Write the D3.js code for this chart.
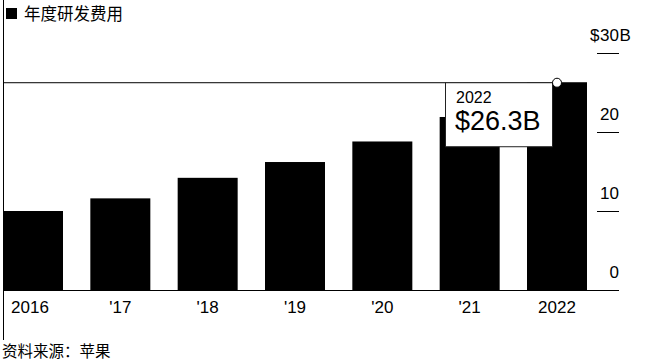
<!DOCTYPE html>
<html>
<head>
<meta charset="utf-8">
<script src="https://cdn.jsdelivr.net/npm/d3@7"></script>
<style>
  body { margin: 0; background: #fff; }
  svg { display: block; }
  text { font-family: "Liberation Sans", Arial, "Noto Sans CJK SC", sans-serif; fill: #000; }
  .cjk { font-family: "Noto Sans CJK SC", sans-serif; }
</style>
</head>
<body>
<div id="chart"></div>
<script>
// data
const years = ["2016", "2017", "2018", "2019", "2020", "2021", "2022"];
const yearLabels = ["2016", "'17", "'18", "'19", "'20", "'21", "2022"];
const spending = [10.0, 11.6, 14.2, 16.2, 18.8, 21.9, 26.3]; // $B
const yTicks = [0, 10, 20, 30];
const title = "年度研发费用";
const source = "资料来源：苹果";

const width = 646;
const height = 361;

const svg = d3
  .select("#chart")
  .append("svg")
  .attr("width", width)
  .attr("height", height);

const x = d3.scaleBand().domain(years).range([3, 587]).paddingInner(0.313).paddingOuter(0);
const y = d3.scaleLinear().domain([0, 30]).range([290, 53]);
const axisRight = 619;

// left rule
svg.append("line")
  .attr("x1", 3.5).attr("x2", 3.5)
  .attr("y1", 0).attr("y2", 340)
  .attr("stroke", "#000").attr("stroke-width", 1);

// title
svg.append("rect").attr("x", 6).attr("y", 8).attr("width", 11).attr("height", 11).attr("fill", "#000");
svg.append("text")
  .attr("class", "cjk")
  .attr("x", 24).attr("y", 20)
  .style("font-size", "16.5px")
  .text(title);

// bars
svg.append("g")
  .selectAll("rect")
  .data(spending)
  .join("rect")
  .attr("x", (d, i) => x(years[i]))
  .attr("y", (d) => y(d))
  .attr("width", x.bandwidth())
  .attr("height", (d) => y(0) - y(d))
  .attr("fill", "#000");

// baseline
svg.append("line")
  .attr("x1", 3).attr("x2", axisRight)
  .attr("y1", y(0) + 0.5).attr("y2", y(0) + 0.5)
  .attr("stroke", "#000").attr("stroke-width", 1.2);

// y ticks on the right
const yAxis = svg.append("g");
yAxis.selectAll("line")
  .data(yTicks.filter((d) => d > 0))
  .join("line")
  .attr("x1", axisRight - 22).attr("x2", axisRight)
  .attr("y1", (d) => y(d) + 0.5).attr("y2", (d) => y(d) + 0.5)
  .attr("stroke", "#000").attr("stroke-width", 1);

yAxis.selectAll("text.tick")
  .data(yTicks)
  .join("text")
  .attr("class", "tick")
  .attr("x", axisRight)
  .attr("y", (d) => y(d) - 12)
  .attr("text-anchor", "end")
  .style("font-size", "17px")
  .text((d) => d);

// $ and B around the top label
const topTick = yTicks[yTicks.length - 1];
const topText = yAxis.selectAll("text.tick").filter((d) => d === topTick);
const topW = topText.node().getComputedTextLength();
yAxis.append("text")
  .attr("x", axisRight - topW - 0.5)
  .attr("y", y(topTick) - 12)
  .attr("text-anchor", "end")
  .style("font-size", "17px")
  .text("$");
yAxis.append("text")
  .attr("x", axisRight + 0.5)
  .attr("y", y(topTick) - 12)
  .style("font-size", "17px")
  .text("B");

// x labels
svg.append("g")
  .selectAll("text")
  .data(yearLabels)
  .join("text")
  .attr("x", (d, i) => x(years[i]) + x.bandwidth() / 2 - (i === 0 ? 3 : 0))
  .attr("y", 313)
  .attr("text-anchor", "middle")
  .style("font-size", "17px")
  .text((d) => d);

// source
svg.append("text")
  .attr("class", "cjk")
  .attr("x", 2).attr("y", 357)
  .style("font-size", "15.5px")
  .text(source);

// annotation for last year
const last = spending.length - 1;
const lastX = x(years[last]) + x.bandwidth() / 2;
const lastY = y(spending[last]);

svg.append("line")
  .attr("x1", 3).attr("x2", lastX)
  .attr("y1", lastY + 0.5).attr("y2", lastY + 0.5)
  .attr("stroke", "#000").attr("stroke-width", 1);

const boxX = lastX - 112;
svg.append("rect")
  .attr("x", boxX + 0.5).attr("y", lastY + 0.5)
  .attr("width", 107).attr("height", 64)
  .attr("fill", "#fff")
  .attr("stroke", "#222").attr("stroke-width", 1);

svg.append("text")
  .attr("x", boxX + 11).attr("y", lastY + 21)
  .style("font-size", "16px")
  .text(years[last]);
svg.append("text")
  .attr("x", boxX + 10).attr("y", lastY + 48)
  .style("font-size", "27px")
  .text("$" + spending[last] + "B");

svg.append("circle")
  .attr("cx", lastX).attr("cy", lastY + 0.5)
  .attr("r", 4.5)
  .attr("fill", "#fff")
  .attr("stroke", "#000").attr("stroke-width", 1);
</script>
</body>
</html>
